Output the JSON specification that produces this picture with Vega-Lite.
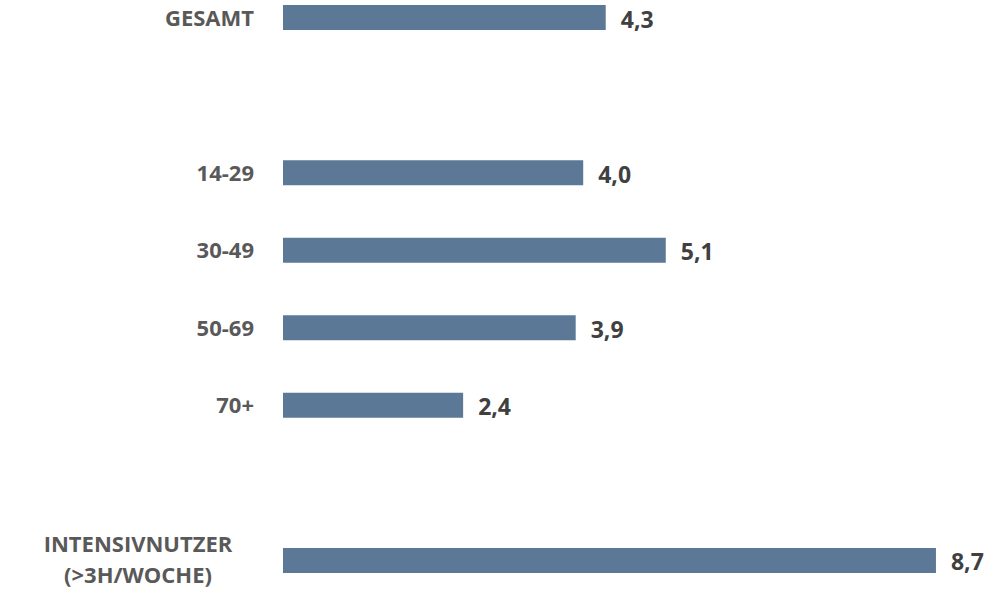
{
  "$schema": "https://vega.github.io/schema/vega-lite/v6.json",
  "autosize": {"type": "none"},
  "padding": {"left": 283, "top": 0, "right": 0, "bottom": 12},
  "width": 713,
  "height": 578,
  "background": "white",
  "config": {
    "view": {"stroke": null},
    "locale": {"number": {"decimal": ",", "thousands": ".", "grouping": [3], "currency": ["", " €"]}}
  },
  "data": {
    "values": [
      {"gruppe": "GESAMT", "wert": 4.3},
      {"gruppe": "14-29", "wert": 4.0},
      {"gruppe": "30-49", "wert": 5.1},
      {"gruppe": "50-69", "wert": 3.9},
      {"gruppe": "70+", "wert": 2.4},
      {"gruppe": "INTENSIVNUTZER (>3H/WOCHE)", "wert": 8.7}
    ]
  },
  "encoding": {
    "y": {
      "field": "gruppe",
      "type": "nominal",
      "scale": {
        "domain": ["GESAMT", "_a", "14-29", "30-49", "50-69", "70+", "_b", "INTENSIVNUTZER (>3H/WOCHE)"],
        "paddingInner": 0.677,
        "paddingOuter": 0.065
      },
      "axis": null
    }
  },
  "layer": [
    {
      "mark": {"type": "bar", "color": "#5b7996"},
      "encoding": {
        "x": {"field": "wert", "type": "quantitative", "scale": {"domain": [0, 9.5], "nice": false, "zero": true}, "axis": null}
      }
    },
    {
      "mark": {"type": "text", "align": "left", "baseline": "middle", "dx": 15, "dy": 3, "font": "Open Sans", "fontWeight": "bold", "fontSize": 23, "color": "#404040"},
      "encoding": {
        "x": {"field": "wert", "type": "quantitative"},
        "text": {"field": "wert", "type": "quantitative", "format": ".1f"}
      }
    },
    {
      "transform": [{"filter": "datum.gruppe != 'INTENSIVNUTZER (>3H/WOCHE)'"}],
      "mark": {"type": "text", "align": "right", "baseline": "middle", "dx": -29, "dy": 1, "font": "Open Sans", "fontWeight": "bold", "fontSize": 22, "color": "#595959"},
      "encoding": {
        "x": {"datum": 0, "type": "quantitative"},
        "text": {"field": "gruppe"}
      }
    },
    {
      "transform": [{"filter": "datum.gruppe == 'INTENSIVNUTZER (>3H/WOCHE)'"}],
      "mark": {"type": "text", "align": "center", "baseline": "middle", "dx": -145, "dy": -15, "lineBreak": " ", "lineHeight": 31, "font": "Open Sans", "fontWeight": "bold", "fontSize": 22, "color": "#595959"},
      "encoding": {
        "x": {"datum": 0, "type": "quantitative"},
        "text": {"field": "gruppe"}
      }
    }
  ]
}
